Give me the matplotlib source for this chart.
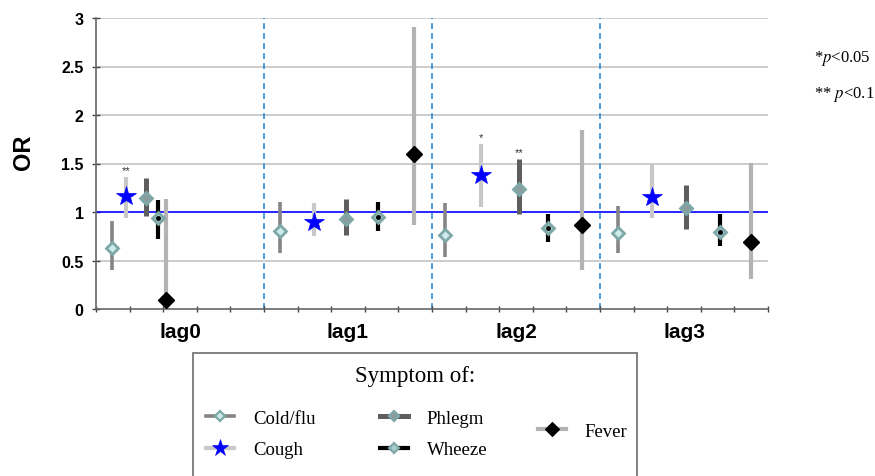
import matplotlib
matplotlib.use("Agg")
import matplotlib.pyplot as plt
from matplotlib.lines import Line2D
from matplotlib.patches import Rectangle
import numpy as np

plt.rcParams['mathtext.fontset'] = 'stix'

groups = ["lag0", "lag1", "lag2", "lag3"]
series = ["Cold/flu", "Cough", "Phlegm", "Wheeze", "Fever"]

# x offsets of each series within each lag group (group width = 5 units)
offsets = [
    [0.48, 0.90, 1.50, 1.85, 2.08],
    [0.48, 1.49, 2.44, 3.39, 4.46],
    [0.40, 1.45, 2.60, 3.44, 4.46],
    [0.54, 1.54, 2.56, 3.57, 4.50],
]

# odds ratios [group][series]
or_vals = [
    [0.625, 1.16, 1.14, 0.935, 0.093],
    [0.80, 0.90, 0.928, 0.945, 1.60],
    [0.766, 1.378, 1.237, 0.835, 0.87],
    [0.78, 1.158, 1.038, 0.79, 0.69],
]
lower = [
    [0.40, 0.935, 0.955, 0.72, 0.02],
    [0.574, 0.756, 0.766, 0.80, 0.87],
    [0.54, 1.048, 0.98, 0.687, 0.40],
    [0.574, 0.935, 0.825, 0.646, 0.31],
]
upper = [
    [0.91, 1.36, 1.35, 1.12, 1.13],
    [1.10, 1.09, 1.134, 1.106, 2.91],
    [1.093, 1.70, 1.546, 0.98, 1.845],
    [1.059, 1.50, 1.28, 0.98, 1.51],
]
sig = [
    ["", "**", "", "", ""],
    ["", "", "", "", ""],
    ["", "*", "**", "", ""],
    ["", "", "", "", ""],
]
yticks = [0, 0.5, 1, 1.5, 2, 2.5, 3]
ytick_labels = ["0", "0.5", "1", "1.5", "2", "2.5", "3"]

teal = "#7ea8a8"
styles = {
    "Cold/flu": dict(ecolor="#858585", elw=2.6, marker="D", ms=6.4, mfc="#cfeaea", mec=teal, mew=2.0),
    "Cough":    dict(ecolor="#c8c8c8", elw=3.0, marker="*", ms=14.5, mfc="#0000ff", mec="#0000ff", mew=0.5),
    "Phlegm":   dict(ecolor="#5e5e5e", elw=3.6, marker="D", ms=6.4, mfc="#8c9c9c", mec=teal, mew=2.0),
    "Wheeze":   dict(ecolor="#000000", elw=3.0, marker="D", ms=6.4, mfc="#a8cccc", mec=teal, mew=2.0),
    "Fever":    dict(ecolor="#b3b3b3", elw=3.0, marker="D", ms=7.8, mfc="#000000", mec="#000000", mew=1.0),
}

fig = plt.figure(figsize=(8.75, 4.77), dpi=100)
ax = fig.add_axes([96/875, 1-310/477, (768-96)/875, (310-19)/477])

for gy in [0.5, 1.5, 2, 2.5, 3]:
    ax.axhline(gy, color="#c4c4c4", lw=1.2, zorder=1)
ax.axhline(1, color="#0000ff", lw=1.2, zorder=2)
for vx in [5, 10, 15]:
    ax.axvline(vx, color="#2b8ad6", lw=1.2, ls=(0, (3.5, 2.5)), zorder=1)

for g in range(len(groups)):
    for s, name in enumerate(series):
        st = styles[name]
        x = g * 5 + offsets[g][s]
        y = or_vals[g][s]
        ax.errorbar([x], [y], yerr=[[y - lower[g][s]], [upper[g][s] - y]],
                    fmt="none", ecolor=st["ecolor"], elinewidth=st["elw"],
                    capsize=0, zorder=3)
        ax.plot([x], [y], linestyle="none", marker=st["marker"], ms=st["ms"],
                mfc=st["mfc"], mec=st["mec"], mew=st["mew"], zorder=4)
        if name == "Wheeze":
            ax.plot([x], [y], linestyle="none", marker="o", ms=2.5, color="black", zorder=5)
        if sig[g][s]:
            ax.text(x, upper[g][s] + 0.02, sig[g][s], ha="center", va="bottom",
                    fontsize=8, family="Liberation Sans", color="#333333")

ax.set_xlim(0, 20)
ax.set_ylim(0, 3)
ax.set_yticks(yticks)
ax.set_yticklabels(ytick_labels, fontsize=11.5, fontweight="bold", family="Liberation Sans")
ax.set_xticks([2.5, 7.5, 12.5, 17.5])
ax.set_xticklabels(groups, fontsize=15, fontweight="bold", family="Liberation Sans")
ax.set_xticks(np.arange(0, 21, 1), minor=True)
ax.tick_params(axis="x", which="major", length=0, pad=9)
ax.tick_params(axis="x", which="minor", length=5, direction="inout", color="#444444", width=1)
ax.tick_params(axis="y", length=6, direction="inout", color="#444444", width=1, pad=6)
for sp in ["top", "right"]:
    ax.spines[sp].set_visible(False)
for sp in ["left", "bottom"]:
    ax.spines[sp].set_color("#666666")
    ax.spines[sp].set_linewidth(1.2)
ax.set_ylabel("OR", fontsize=17, fontweight="bold", family="Liberation Sans")
ax.yaxis.set_label_coords((35 - 96) / 672, (310 - 152) / 291)

# significance notes
fig.text(814/875, 1-58/477, r"*$\mathit{p}$<0.05", fontsize=12, family="Liberation Serif", va="center")
fig.text(814/875, 1-95/477, r"** $\mathit{p}$<0.1", fontsize=12, family="Liberation Serif", va="center")

# legend box
fig.patches.append(Rectangle((193/875, -0.05), (637-193)/875, 0.05 + 1-354/477,
                             transform=fig.transFigure, fill=False, edgecolor="#777777",
                             lw=1.3, clip_on=False))
fig.text(415/875, 1-377/477, "Symptom of:", fontsize=16.5, family="Liberation Serif",
         ha="center", va="center")

def handle(name):
    st = styles[name]
    return Line2D([], [], color=st["ecolor"], lw=st["elw"], marker=st["marker"],
                  ms=st["ms"] * 0.85, mfc=st["mfc"], mec=st["mec"], mew=st["mew"] * 0.8)

leg_kw = dict(frameon=False, handlelength=1.5, handletextpad=1.0,
              labelspacing=0.75, borderpad=0, borderaxespad=0,
              prop={"family": "Liberation Serif", "size": 13.5})
l1 = fig.legend([handle("Cold/flu"), handle("Cough")], ["Cold/flu", "Cough"],
                loc="center left", bbox_to_anchor=(206/875, 1-435/477), **leg_kw)
l2 = fig.legend([handle("Phlegm"), handle("Wheeze")], ["Phlegm", "Wheeze"],
                loc="center left", bbox_to_anchor=(380/875, 1-435/477), **leg_kw)
l3 = fig.legend([handle("Fever")], ["Fever"],
                loc="center left", bbox_to_anchor=(538/875, 1-432/477), **leg_kw)

fig.savefig("out.png", dpi=100)
